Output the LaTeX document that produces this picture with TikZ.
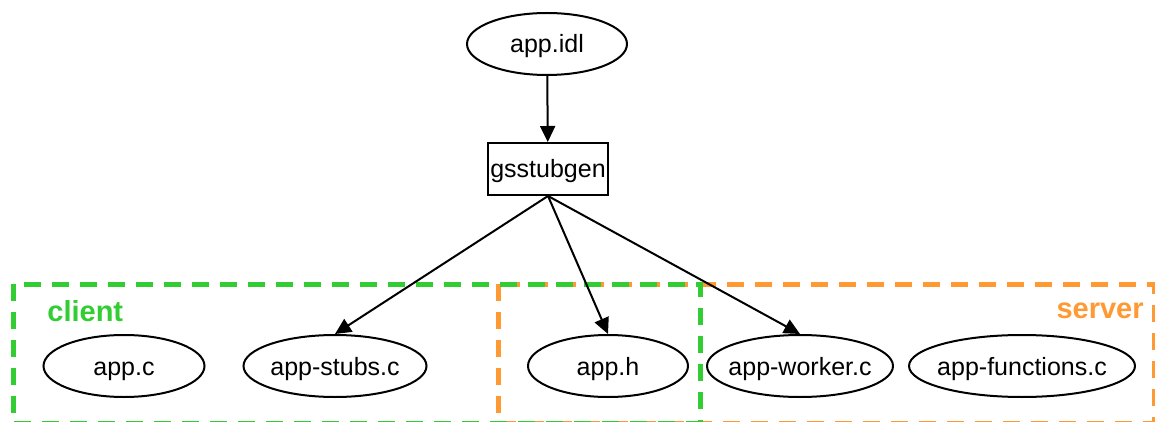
\documentclass[tikz,border=0pt]{standalone}
\usepackage{fontspec}
\setmainfont{Liberation Sans}
\usepackage{tikz}
\usetikzlibrary{arrows.meta, positioning, shapes.geometric}

\definecolor{clientgreen}{RGB}{50,205,50}
\definecolor{serverorange}{RGB}{255,153,51}

\begin{document}
\begin{tikzpicture}[
  x=0.5pt, y=-0.5pt,
  every node/.style={font=\fontsize{12.5}{14}\selectfont},
  file/.style={draw, line width=1pt, ellipse, minimum height=31pt,
    inner xsep=-12pt, inner ysep=0pt, text height=11pt, text depth=2pt},
  tool/.style={draw, line width=1pt, rectangle, minimum height=26pt,
    inner sep=1pt, text height=11pt, text depth=2pt},
  arr/.style={-{Triangle[length=8pt, width=7.5pt]}, line width=1pt},
  group/.style={line width=2.5pt, dash pattern=on 8.5pt off 5.5pt},
  grouplabel/.style={font=\fontsize{14.5}{16}\selectfont\bfseries, inner sep=0pt},
]
  \useasboundingbox (0,0) rectangle (1155,422);

  % Groups (server first, client on top)
  \draw[group, serverorange] (498,284) rectangle (1154,423);
  \draw[group, clientgreen] (13,284) rectangle (700,423);
  \node[grouplabel, text=clientgreen, anchor=west] (clientlbl) at (47,311) {client};
  \node[grouplabel, text=serverorange, anchor=east] (serverlbl) at (1144,311) {server};

  % Input and generator
  \node[file, minimum width=80pt] (idl) at (547,44) {app.idl};
  \node[tool, minimum width=58pt] (gen) at (548,169) {gsstubgen};

  % Source files
  \foreach \name/\x/\w/\txt in {appc/124/80.5/app.c, stubs/335/91.5/app-stubs.c,
      apph/608/80/app.h, worker/800/93/app-worker.c,
      funcs/1022/113/app-functions.c} {
    \node[file, minimum width=\w pt] (\name) at (\x,366) {\txt};
  }

  % Generated outputs
  \draw[arr] (idl) -- (gen);
  \foreach \out in {stubs, apph, worker} {
    \draw[arr] (gen.south) -- (\out.north);
  }
\end{tikzpicture}
\end{document}
